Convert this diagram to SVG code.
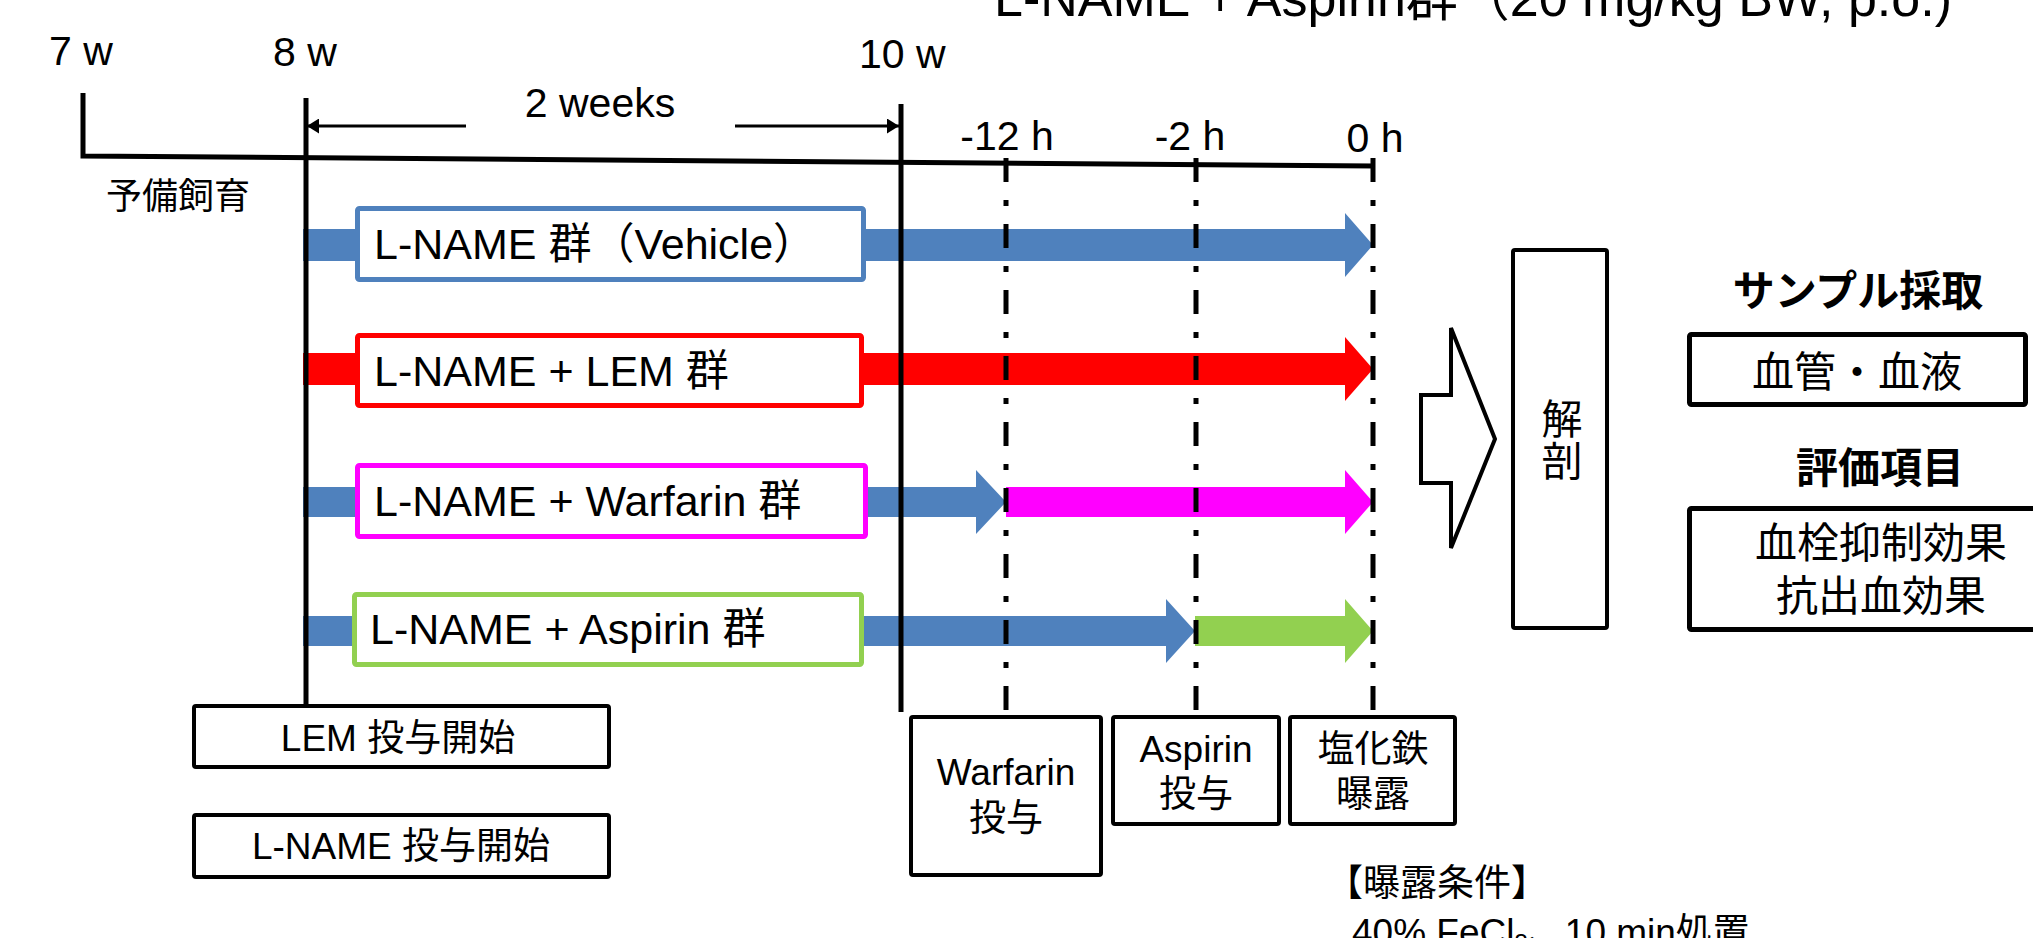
<svg xmlns="http://www.w3.org/2000/svg" width="2033" height="938" viewBox="0 0 2033 938">
<style>
text { font-family: "Liberation Sans", "Noto Sans CJK JP", sans-serif; fill: #000; }
.lbl { font-size: 41px; }
.grp { font-size: 43px; }
.sm { font-size: 37px; }
.rt { font-size: 42px; }
.bold { font-weight: bold; }
.note { font-size: 37px; }
.mid { text-anchor: middle; }
.box { fill: #fff; stroke: #000; stroke-width: 4; }
.boxw { fill: #fff; stroke: #000; stroke-width: 5; }
.axis { fill: none; stroke: #000; stroke-width: 5; }
.vline { stroke: #000; stroke-width: 5; }
.dd { stroke: #000; stroke-width: 5; stroke-dasharray: 24 18 6 18; fill: none; }
.thin { stroke: #000; stroke-width: 3; fill: none; }
.blue { fill: #4F81BD; }
.red { fill: #FF0000; }
.mag { fill: #FF00FF; }
.grn { fill: #92D050; }
</style>
<defs>
<marker id="tri" viewBox="0 0 12 15" refX="12" refY="7.5" markerWidth="12" markerHeight="15" markerUnits="userSpaceOnUse" orient="auto">
<path d="M0,0 L12,7.5 L0,15 z" fill="#000"/>
</marker>
</defs>
<rect x="0" y="0" width="2033" height="938" fill="#fff"/>

<g id="title">
<text x="994" y="16" style="font-size:52px">L-NAME + Aspirin群（20 mg/kg BW, p.o.)</text>
</g>

<g id="timeline">
<text class="lbl" x="49" y="65">7 w</text>
<text class="lbl" x="273" y="66">8 w</text>
<text class="lbl" x="859" y="68">10 w</text>
<text class="lbl mid" x="600" y="117">2 weeks</text>
<text class="lbl mid" x="1007" y="150">-12 h</text>
<text class="lbl mid" x="1190" y="150">-2 h</text>
<text class="lbl mid" x="1375" y="152">0 h</text>
<text x="106" y="209" style="font-size:36px">予備飼育</text>
<polyline class="axis" points="83,93 83,156 1375,166"/>
</g>

<g id="connectors">
<polygon class="blue" points="303,229 1345,229 1345,213 1373,245 1345,277 1345,261 303,261"/>
<polygon class="red" points="303,353 1345,353 1345,337 1373,369 1345,401 1345,385 303,385"/>
<polygon class="blue" points="303,487 976,487 976,470 1006,502 976,534 976,517 303,517"/>
<polygon class="mag" points="1006,487 1345,487 1345,470 1373,502 1345,534 1345,517 1006,517"/>
<polygon class="blue" points="303,616 1166,616 1166,599 1195,631 1166,663 1166,646 303,646"/>
<polygon class="grn" points="1195,616 1345,616 1345,599 1373,631 1345,663 1345,646 1195,646"/>
<line class="thin" x1="466" y1="126" x2="307" y2="126" marker-end="url(#tri)"/>
<line class="thin" x1="735" y1="126" x2="899" y2="126" marker-end="url(#tri)"/>
<line class="vline" x1="306" y1="98" x2="306" y2="705"/>
<line class="vline" x1="901" y1="104" x2="901" y2="712"/>
<line class="dd" x1="1006" y1="158" x2="1006" y2="716"/>
<line class="dd" x1="1196" y1="158" x2="1196" y2="716"/>
<line class="dd" x1="1373" y1="158" x2="1373" y2="716"/>
<polygon points="1421,395 1451,395 1451,328 1495,439 1451,548 1451,483 1421,483" fill="#fff" stroke="#000" stroke-width="4"/>
</g>

<g id="g-vehicle">
<rect x="357.5" y="208.5" width="506" height="71" rx="2" fill="#fff" stroke="#4F81BD" stroke-width="5"/>
<text class="grp" x="374" y="259">L-NAME 群（Vehicle）</text>
</g>
<g id="g-lem">
<rect x="357.5" y="335.5" width="504" height="70" rx="2" fill="#fff" stroke="#FF0000" stroke-width="5"/>
<text class="grp" x="374" y="386">L-NAME + LEM 群</text>
</g>
<g id="g-warfarin">
<rect x="357.5" y="465.5" width="508" height="71" rx="2" fill="#fff" stroke="#FF00FF" stroke-width="5"/>
<text class="grp" x="374" y="516">L-NAME + Warfarin 群</text>
</g>
<g id="g-aspirin">
<rect x="354.5" y="594.5" width="507" height="70" rx="2" fill="#fff" stroke="#92D050" stroke-width="5"/>
<text class="grp" x="370" y="644">L-NAME + Aspirin 群</text>
</g>

<g id="lem-start">
<rect class="box" x="194" y="706" width="415" height="61" rx="2"/>
<text class="sm mid" x="398" y="751">LEM 投与開始</text>
</g>
<g id="lname-start">
<rect class="box" x="194" y="815" width="415" height="62" rx="2"/>
<text class="sm mid" x="401" y="859">L-NAME 投与開始</text>
</g>

<g id="warfarin-dose">
<rect class="box" x="911" y="717" width="190" height="158" rx="2"/>
<text class="sm mid" x="1006" y="785">Warfarin</text>
<text class="sm mid" x="1006" y="831">投与</text>
</g>
<g id="aspirin-dose">
<rect class="box" x="1113" y="717" width="166" height="107" rx="2"/>
<text class="sm mid" x="1196" y="762">Aspirin</text>
<text class="sm mid" x="1196" y="807">投与</text>
</g>
<g id="fecl3">
<rect class="box" x="1290" y="717" width="165" height="107" rx="2"/>
<text class="sm mid" x="1373" y="762">塩化鉄</text>
<text class="sm mid" x="1373" y="807">曝露</text>
</g>

<g id="conditions">
<text class="note" x="1326" y="896">【曝露条件】</text>
<text class="note" x="1352" y="945">40% FeCl<tspan style="font-size:24px" dy="6">3</tspan><tspan dy="-6">、10 min処置</tspan></text>
</g>

<g id="dissection">
<rect class="box" x="1513" y="250" width="94" height="378" rx="2"/>
<text class="lbl mid" x="1562" y="434">解</text>
<text class="lbl mid" x="1562" y="476">剖</text>
</g>

<g id="samples">
<text class="rt bold mid" x="1858" y="306">サンプル採取</text>
<rect class="boxw" x="1689.5" y="334.5" width="336" height="70" rx="2"/>
<text class="rt mid" x="1857" y="387">血管・血液</text>
</g>

<g id="evaluation">
<text class="rt bold mid" x="1880" y="483">評価項目</text>
<rect class="boxw" x="1689.5" y="508.5" width="400" height="121" rx="2"/>
<text class="rt mid" x="1881" y="558">血栓抑制効果</text>
<text class="rt mid" x="1881" y="611">抗出血効果</text>
</g>
</svg>
